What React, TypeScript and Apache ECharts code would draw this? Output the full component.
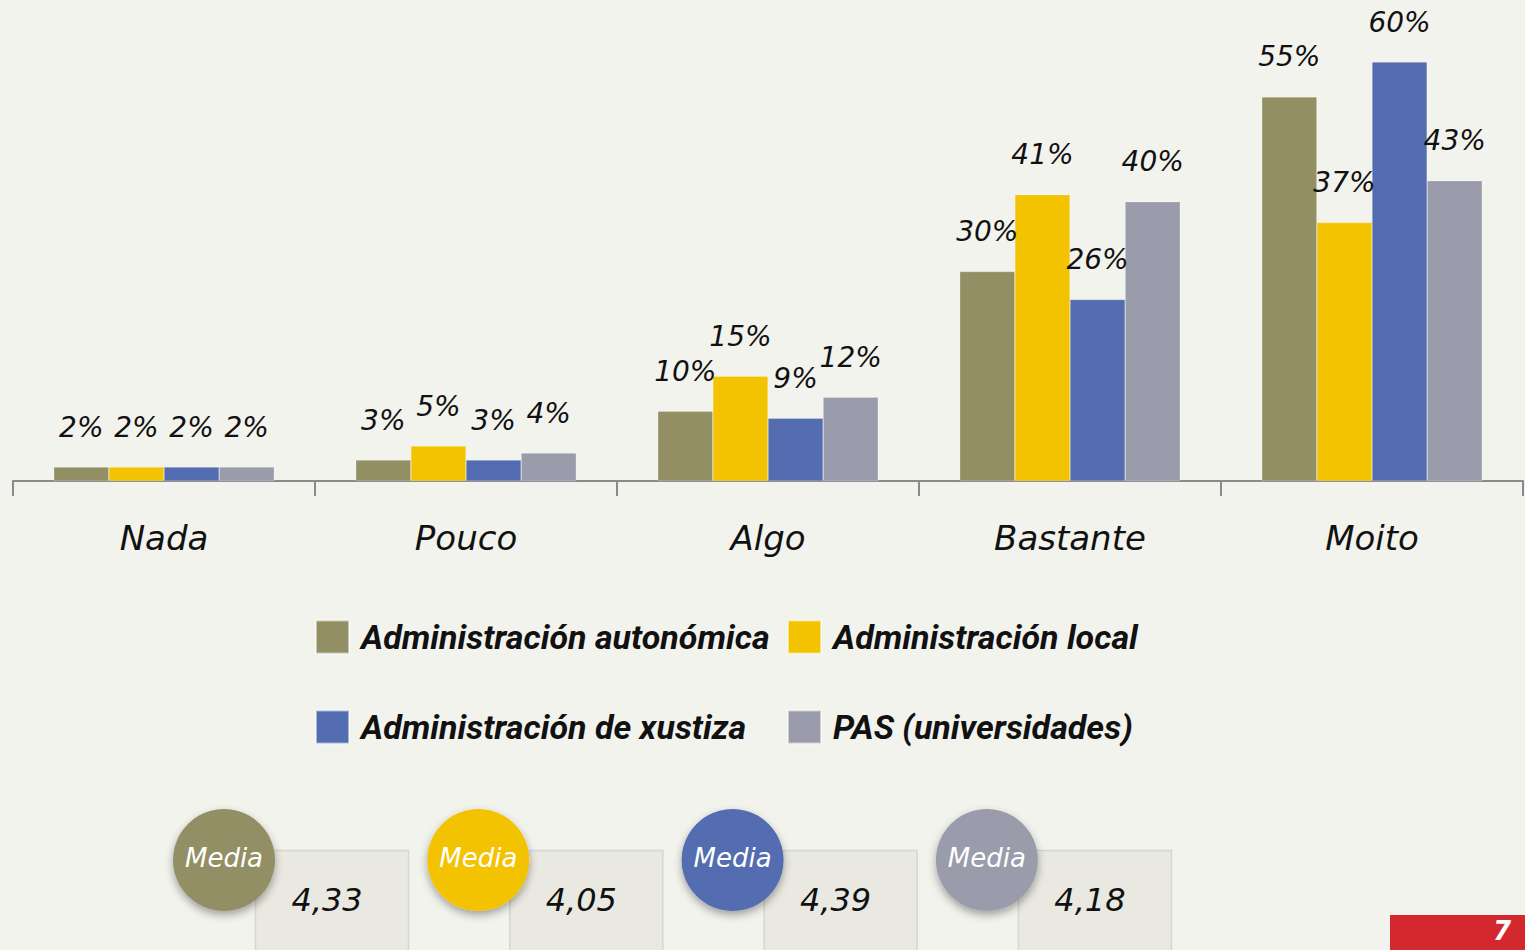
import React, { useEffect, useRef } from "react";
import * as echarts from "echarts";

const categories = ["Nada", "Pouco", "Algo", "Bastante", "Moito"];
const seriesNames = [
  "Administración autonómica",
  "Administración local",
  "Administración de xustiza",
  "PAS (universidades)",
];
const autonomica = [2, 3, 10, 30, 55];
const local = [2, 5, 15, 41, 37];
const xustiza = [2, 3, 9, 26, 60];
const pas = [2, 4, 12, 40, 43];
const medias = ["4,33", "4,05", "4,39", "4,18"];
const colors = ["#918f63", "#f3c200", "#536db0", "#9a9bab"];

const FONT = "'DejaVu Sans', sans-serif";
const LEGEND_FONT = "Roboto, 'Liberation Sans', sans-serif";

export default function App() {
  const ref = useRef<HTMLDivElement>(null);
  useEffect(() => {
    document.body.style.margin = "0";
    const chart = echarts.init(ref.current!, null, { renderer: "svg" });
    const values = [autonomica, local, xustiza, pas];
    const legendPos = [
      [315, 613],
      [787, 613],
      [315, 703],
      [787, 703],
    ];
    const graphics: any[] = [];
    medias.forEach((m, i) => {
      const off = i * 254.3;
      graphics.push({
        type: "rect",
        shape: { x: 255.5 + off, y: 850.5, width: 153, height: 120 },
        style: { fill: "#e9e9e1", stroke: "#d6d6d2", lineWidth: 1.5 },
      });
      graphics.push({
        type: "text",
        style: {
          x: 327 + off,
          y: 900,
          text: m,
          fill: "#111",
          font: `italic 32px ${FONT}`,
          align: "center",
          verticalAlign: "middle",
        },
      });
      graphics.push({
        type: "circle",
        shape: { cx: 224 + off, cy: 860, r: 51 },
        style: {
          fill: colors[i],
          shadowBlur: 8,
          shadowOffsetY: 4,
          shadowColor: "rgba(0,0,0,0.35)",
        },
      });
      graphics.push({
        type: "text",
        style: {
          x: 224 + off,
          y: 858,
          text: "Media",
          fill: "#ffffff",
          font: `italic 26px ${FONT}`,
          align: "center",
          verticalAlign: "middle",
        },
      });
    });
    graphics.push({
      type: "rect",
      shape: { x: 1390, y: 915, width: 135, height: 40 },
      style: { fill: "#d2282e" },
    });
    graphics.push({
      type: "text",
      style: {
        x: 1502,
        y: 918,
        text: "7",
        fill: "#ffffff",
        font: `italic bold 26px ${FONT}`,
        align: "center",
        verticalAlign: "top",
      },
    });

    chart.setOption({
      animation: false,
      backgroundColor: "#f3f3ee",
      grid: { left: 13, right: 2, top: 62, bottom: 469 },
      legend: seriesNames.map((n, i) => ({
        data: [n],
        left: legendPos[i][0],
        top: legendPos[i][1],
        padding: 0,
        itemWidth: 33,
        itemHeight: 33,
        icon: "rect",
        selectedMode: false,
        textStyle: {
          fontFamily: LEGEND_FONT,
          fontStyle: "italic",
          fontWeight: "bold",
          fontSize: 34,
          lineHeight: 48,
          color: "#111",
          padding: [0, 0, 0, 7],
        },
      })),
      xAxis: {
        type: "category",
        data: categories,
        boundaryGap: true,
        axisLine: { show: true, lineStyle: { color: "#8a8a8a", width: 2 } },
        axisTick: { show: true, alignWithLabel: false, interval: 0, length: 15, lineStyle: { color: "#8a8a8a", width: 2 } },
        axisLabel: {
          margin: 40,
          fontSize: 34,
          fontStyle: "italic",
          fontFamily: FONT,
          color: "#111",
        },
      },
      yAxis: { type: "value", min: 0, max: 60, show: false },
      series: seriesNames.map((n, i) => ({
        name: n,
        type: "bar",
        data: values[i],
        barGap: 0,
        barCategoryGap: "27%",
        itemStyle: { color: colors[i], borderColor: "rgba(255,255,255,0.5)", borderWidth: 0.5 },
        label: {
          show: true,
          position: "top",
          distance: 26,
          formatter: "{c}%",
          fontSize: 28,
          fontStyle: "italic",
          fontFamily: FONT,
          color: "#111",
        },
      })),
      graphic: graphics,
    });
    return () => chart.dispose();
  }, []);
  return (
    <div
      ref={ref}
      style={{ position: "fixed", left: 0, top: 0, width: 1525, height: 950 }}
    />
  );
}
